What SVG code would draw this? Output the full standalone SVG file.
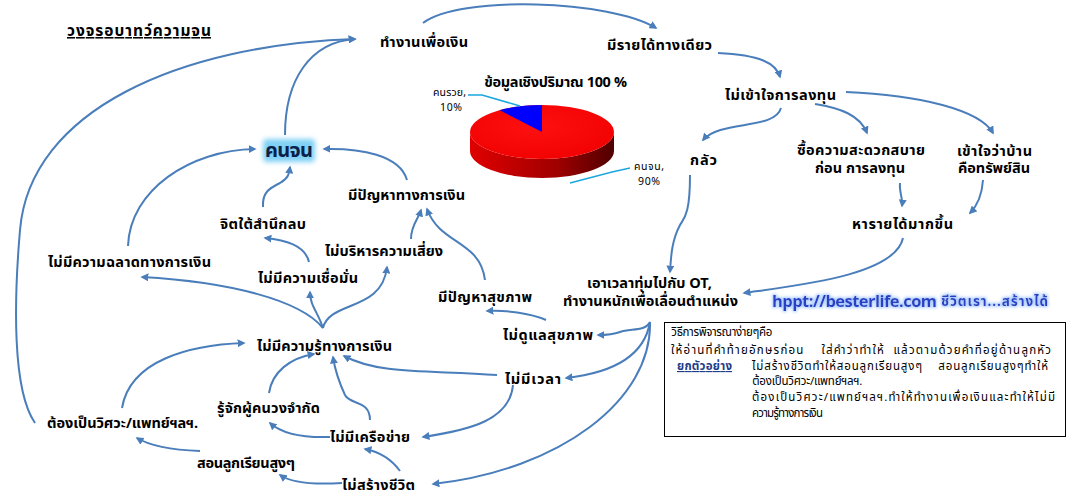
<svg xmlns="http://www.w3.org/2000/svg" width="1073" height="496" viewBox="0 0 1073 496">
<defs>
<marker id="ah" viewBox="0 0 10 10" refX="8" refY="5" markerWidth="4" markerHeight="4" orient="auto" markerUnits="strokeWidth">
<path d="M0,0 L10,5 L0,10 Z" fill="#4a7ebb"/>
</marker>
<linearGradient id="side" x1="0" y1="0" x2="1" y2="0">
<stop offset="0" stop-color="#e00000"/>
<stop offset="0.6" stop-color="#a00000"/>
<stop offset="1" stop-color="#500000"/>
</linearGradient>
<radialGradient id="top" cx="0.45" cy="0.4" r="0.7">
<stop offset="0" stop-color="#ff1010"/>
<stop offset="1" stop-color="#f00000"/>
</radialGradient>
<filter id="glow" x="-30%" y="-40%" width="160%" height="180%">
<feGaussianBlur stdDeviation="2.5"/>
</filter>
<filter id="tglow" x="-10%" y="-40%" width="120%" height="180%">
<feMorphology in="SourceAlpha" operator="dilate" radius="1.2" result="d"/>
<feGaussianBlur in="d" stdDeviation="1.5" result="b"/>
<feFlood flood-color="#a8caff"/>
<feComposite in2="b" operator="in" result="g"/>
<feMerge><feMergeNode in="g"/><feMergeNode in="SourceGraphic"/></feMerge>
</filter>
</defs>
<style>
text{font-family:"Noto Sans Thai","Tahoma","DejaVu Sans","Noto Sans",sans-serif;}
.n{font-size:14.5px;font-weight:bold;fill:#000;text-anchor:middle;}
.c path{fill:none;stroke:#4a7ebb;stroke-width:2;marker-end:url(#ah);}
.s{font-size:10.5px;fill:#000;text-anchor:middle;}
.b{font-size:11.5px;fill:#000;}
</style>
<rect width="1073" height="496" fill="#fff"/>

<g id="title">
<text x="139" y="36" textLength="144" style="font-size:15.5px;font-weight:bold;text-anchor:middle;text-decoration:underline;">วงจรอบาทว์ความจน</text>
</g>

<g id="pie">
<path d="M470,132 A72,27 0 0 0 614,132 L614,151 A72,27 0 0 1 470,151 Z" fill="url(#side)"/>
<ellipse cx="542" cy="132" rx="72" ry="27" fill="url(#top)"/>
<path d="M542,132 L542,105 A72,27 0 0 0 499.7,110.2 Z" fill="#0000ff"/>
<text x="555.5" y="87" class="n" textLength="143">ข้อมูลเชิงปริมาณ 100 %</text>
<polyline points="468,95 482,95 520,106" fill="none" stroke="#1aa7e0" stroke-width="1.5"/>
<text x="449.5" y="96" class="s" textLength="33">คนรวย,</text>
<text x="451" y="111" class="s" textLength="22">10%</text>
<polyline points="570,183 612,172 630,168" fill="none" stroke="#1aa7e0" stroke-width="1.5"/>
<text x="649" y="170" class="s" textLength="30">คนจน,</text>
<text x="649" y="185" class="s" textLength="22">90%</text>
</g>

<g id="n-work"><text x="424" y="47" class="n" textLength="88">ทำงานเพื่อเงิน</text></g>
<g id="n-oneincome"><text x="659.5" y="50" class="n" textLength="105">มีรายได้ทางเดียว</text></g>
<g id="n-noinvest"><text x="780.5" y="100" class="n" textLength="111">ไม่เข้าใจการลงทุน</text></g>
<g id="n-fear"><text x="703.5" y="165" class="n" textLength="27">กลัว</text></g>
<g id="n-comfort"><text x="861" y="155" class="n" textLength="128">ซื้อความสะดวกสบาย</text><text x="860" y="173" class="n" textLength="90">ก่อน การลงทุน</text></g>
<g id="n-house"><text x="994.5" y="156" class="n" textLength="75">เข้าใจว่าบ้าน</text><text x="994" y="173" class="n" textLength="72">คือทรัพย์สิน</text></g>
<g id="n-moreincome"><text x="902.5" y="229" class="n" textLength="101">หารายได้มากขึ้น</text></g>
<g id="n-ot"><text x="649.5" y="288" class="n" textLength="125">เอาเวลาทุ่มไปกับ OT,</text><text x="650.5" y="306" class="n" textLength="175">ทำงานหนักเพื่อเลื่อนตำแหน่ง</text></g>
<g id="n-url">
<text x="854.5" y="307" textLength="165" style="font-size:16.5px;font-weight:bold;fill:#2a3fc4;text-anchor:middle;" filter="url(#tglow)">hppt://besterlife.com</text>
<text x="994.5" y="306" textLength="107" style="font-size:13.5px;font-weight:bold;fill:#2a3fc4;text-anchor:middle;" filter="url(#tglow)">ชีวิตเรา...สร้างได้</text>
</g>

<g id="n-poor">
<rect x="263" y="139" width="52" height="23" rx="4" fill="#7fd0f5" filter="url(#glow)"/>
<text x="289" y="157" textLength="48" style="font-size:20px;font-weight:bold;fill:#0c1f4a;text-anchor:middle;">คนจน</text>
</g>
<g id="n-smart"><text x="129.5" y="267" class="n" textLength="163">ไม่มีความฉลาดทางการเงิน</text></g>
<g id="n-neg"><text x="263" y="229" class="n" textLength="86">จิตใต้สำนึกลบ</text></g>
<g id="n-conf"><text x="308" y="283" class="n" textLength="100">ไม่มีความเชื่อมั่น</text></g>
<g id="n-risk"><text x="384" y="256" class="n" textLength="118">ไม่บริหารความเสี่ยง</text></g>
<g id="n-finprob"><text x="406.5" y="200" class="n" textLength="117">มีปัญหาทางการเงิน</text></g>
<g id="n-health"><text x="485" y="302" class="n" textLength="94">มีปัญหาสุขภาพ</text></g>
<g id="n-nocare"><text x="548" y="340" class="n" textLength="90">ไม่ดูแลสุขภาพ</text></g>
<g id="n-noknow"><text x="324.5" y="351" class="n" textLength="135">ไม่มีความรู้ทางการเงิน</text></g>
<g id="n-notime"><text x="533" y="384" class="n" textLength="56">ไม่มีเวลา</text></g>
<g id="n-few"><text x="268.5" y="413" class="n" textLength="103">รู้จักผู้คนวงจำกัด</text></g>
<g id="n-nonet"><text x="370" y="442" class="n" textLength="80">ไม่มีเครือข่าย</text></g>
<g id="n-eng"><text x="122.5" y="428" class="n" textLength="151">ต้องเป็นวิศวะ/แพทย์ฯลฯ.</text></g>
<g id="n-study"><text x="246" y="468" class="n" textLength="98">สอนลูกเรียนสูงๆ</text></g>
<g id="n-nolife"><text x="378.5" y="490" class="n" textLength="73">ไม่สร้างชีวิต</text></g>

<g id="note">
<rect x="664.5" y="322.5" width="401" height="114" fill="#fff" stroke="#000" stroke-width="1"/>
<text x="671" y="336" class="b" textLength="101">วิธีการพิจารณาง่ายๆคือ</text>
<text x="671" y="354" class="b" textLength="380" xml:space="preserve">ให้อ่านที่คำท้ายอักษรก่อน    ใส่คำว่าทำให้  แล้วตามด้วยคำที่อยู่ด้านลูกหัว</text>
<text x="677" y="370" class="b" textLength="55" style="fill:#1f3c88;text-decoration:underline;font-weight:bold;">ยกตัวอย่าง</text>
<text x="752" y="370" class="b" textLength="296" xml:space="preserve">ไม่สร้างชีวิตทำให้สอนลูกเรียนสูงๆ    สอนลูกเรียนสูงๆทำให้</text>
<text x="752" y="385" class="b" textLength="110">ต้องเป็นวิศวะ/แพทย์ฯลฯ.</text>
<text x="752" y="401" class="b" textLength="303">ต้องเป็นวิศวะ/แพทย์ฯลฯ.ทำให้ทำงานเพื่อเงินและทำให้ไม่มี</text>
<text x="752" y="417" class="b" textLength="71">ความรู้ทางการเงิน</text>
</g>

<g id="connectors" class="c">
<path d="M423,23 C460,-5 610,0 656,28"/>
<path d="M718,53 C760,55 776,63 780,77"/>
<path d="M781,108 C775,130 720,120 703,140"/>
<path d="M815,104 C840,108 860,115 867,133"/>
<path d="M846,92 C920,95 980,110 993,133"/>
<path d="M900,183 C899,192 903,198 902,206"/>
<path d="M983,180 C982,195 978,205 970,213"/>
<path d="M903,238 C895,275 800,285 744,293"/>
<path d="M690,175 C690,215 684,218 680,225 C672,240 671,255 670,272"/>
<path d="M650,322 C645,332 630,328 620,332 C612,335 606,335 598,335"/>
<path d="M650,322 C645,352 620,372 566,378"/>
<path d="M650,322 C652,400 560,470 433,484"/>
<path d="M546,320 C530,313 505,310 487,311"/>
<path d="M485,280 C480,240 440,245 427,209"/>
<path d="M411,239 C411,225 418,220 421,210"/>
<path d="M407,180 C400,155 360,148 324,149"/>
<path d="M263,207 C262,192 270,188 280,183 C288,178 289,175 290,167"/>
<path d="M128,246 C130,190 190,150 255,149"/>
<path d="M285,135 C285,80 310,42 355,39"/>
<path d="M35,423 C12,390 14,300 20,230 C30,110 180,45 355,39"/>
<path d="M323,328 C300,300 230,282 142,277"/>
<path d="M323,328 C318,312 310,306 310,292"/>
<path d="M323,328 C330,300 382,312 387,267"/>
<path d="M309,262 C305,245 285,240 265,238"/>
<path d="M122,408 C130,360 190,345 244,343"/>
<path d="M269,393 C272,372 290,358 314,354"/>
<path d="M370,420 C370,400 350,405 345,395 C338,380 335,370 333,357"/>
<path d="M497,375 C430,370 380,375 344,356"/>
<path d="M513,385 C510,420 470,430 423,437"/>
<path d="M330,437 C300,438 280,432 270,423"/>
<path d="M400,471 C392,460 380,452 365,449"/>
<path d="M342,483 C310,485 290,482 280,475"/>
<path d="M200,451 C175,450 150,446 137,438"/>
</g>
</svg>
